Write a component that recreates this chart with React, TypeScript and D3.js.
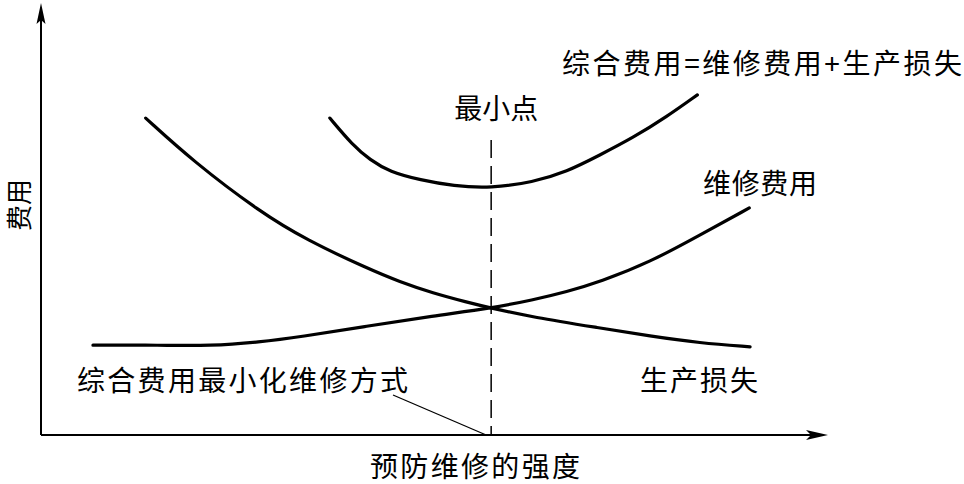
import React from "react";
import * as d3 from "d3";

// x = 预防维修的强度 (0-100), y = 费用 (0-100)
const lossX = [13.3, 19.3, 27.8, 33.8, 41.4, 45.6, 49.8, 54.1, 57.2, 62.5, 71.0, 77.4, 83.7, 90.1];
const lossY = [73.7, 63.7, 51.9, 45.3, 38.8, 35.6, 33.0, 30.9, 29.5, 27.4, 24.9, 23.0, 21.4, 20.5];

const maintX = [6.6, 15.1, 21.5, 27.8, 32.9, 41.4, 49.8, 57.2, 62.5, 66.8, 71.0, 77.4, 83.7, 90.0];
const maintY = [20.9, 20.9, 20.7, 21.6, 22.8, 25.3, 27.7, 29.5, 31.4, 33.3, 35.6, 40.2, 46.5, 52.8];

const totalX = [36.7, 39.6, 41.8, 44.3, 48.2, 52.4, 57.2, 62.5, 66.8, 71.0, 75.2, 79.5, 83.4];
const totalY = [73.7, 67.4, 64.0, 61.2, 59.3, 57.9, 57.4, 58.8, 61.2, 65.1, 69.1, 74.0, 79.1];

const labels = {
  total: "综合费用=维修费用+生产损失",
  minPoint: "最小点",
  maint: "维修费用",
  loss: "生产损失",
  method: "综合费用最小化维修方式",
  xTitle: "预防维修的强度",
  yTitle: "费用",
};

const W = 964;
const H = 484;
const font = "'Noto Sans CJK SC', 'Noto Sans', sans-serif";

export default function App() {
  const x = d3.scaleLinear().domain([0, 100]).range([41, 828]);
  const y = d3.scaleLinear().domain([0, 100]).range([435, 5]);

  const line = d3
    .line<[number, number]>()
    .x(d => x(d[0]))
    .y(d => y(d[1]))
    .curve(d3.curveBasis);

  const zip = (xs: number[], ys: number[]) => xs.map((v, i) => [v, ys[i]] as [number, number]);
  const curves = [zip(lossX, lossY), zip(maintX, maintY), zip(totalX, totalY)];

  // minimum of total cost
  const minIdx = d3.minIndex(totalY);
  const minX = x(totalX[minIdx]);
  const x0 = x(0);
  const y0 = y(0);
  const xEnd = x(100);
  const yEnd = y(100);

  return (
    <svg width={W} height={H} style={{ position: "absolute", left: 0, top: 0, background: "#fff" }}>
      {/* axes */}
      <line x1={x0} y1={y0} x2={x0} y2={yEnd + 14} stroke="#000" strokeWidth={2} />
      <path d={`M${x0},${yEnd - 2} L${x0 + 4.5},${yEnd + 19} L${x0},${yEnd + 15} L${x0 - 4.5},${yEnd + 19} Z`} fill="#000" />
      <line x1={x0} y1={y0} x2={xEnd - 14} y2={y0} stroke="#000" strokeWidth={2} />
      <path d={`M${xEnd},${y0} L${xEnd - 22},${y0 - 5} L${xEnd - 17},${y0} L${xEnd - 22},${y0 + 5} Z`} fill="#000" />

      {/* curves */}
      {curves.map((c, i) => (
        <path key={i} d={line(c) || ""} fill="none" stroke="#000" strokeWidth={3.2} strokeLinecap="round" />
      ))}

      {/* minimum marker */}
      <line x1={minX} y1={140} x2={minX} y2={y0} stroke="#000" strokeWidth={1.5} strokeDasharray="18,8" />
      <line x1={393} y1={395} x2={minX - 5} y2={y0} stroke="#000" strokeWidth={1.3} />

      <g fontFamily={font} fontSize={28} fill="#000">
        <text x={562} y={74} textLength={400} lengthAdjust="spacing">{labels.total}</text>
        <text x={minX + 5} y={119} textAnchor="middle">{labels.minPoint}</text>
        <text x={703} y={194} textLength={114} lengthAdjust="spacing">{labels.maint}</text>
        <text x={640} y={391} textLength={118} lengthAdjust="spacing">{labels.loss}</text>
        <text x={77} y={391} textLength={331} lengthAdjust="spacing">{labels.method}</text>
        <text x={370} y={477} textLength={210} lengthAdjust="spacing">{labels.xTitle}</text>
        <text transform="translate(29,205) rotate(-90)" textAnchor="middle" fontSize={26}>{labels.yTitle}</text>
      </g>
    </svg>
  );
}
